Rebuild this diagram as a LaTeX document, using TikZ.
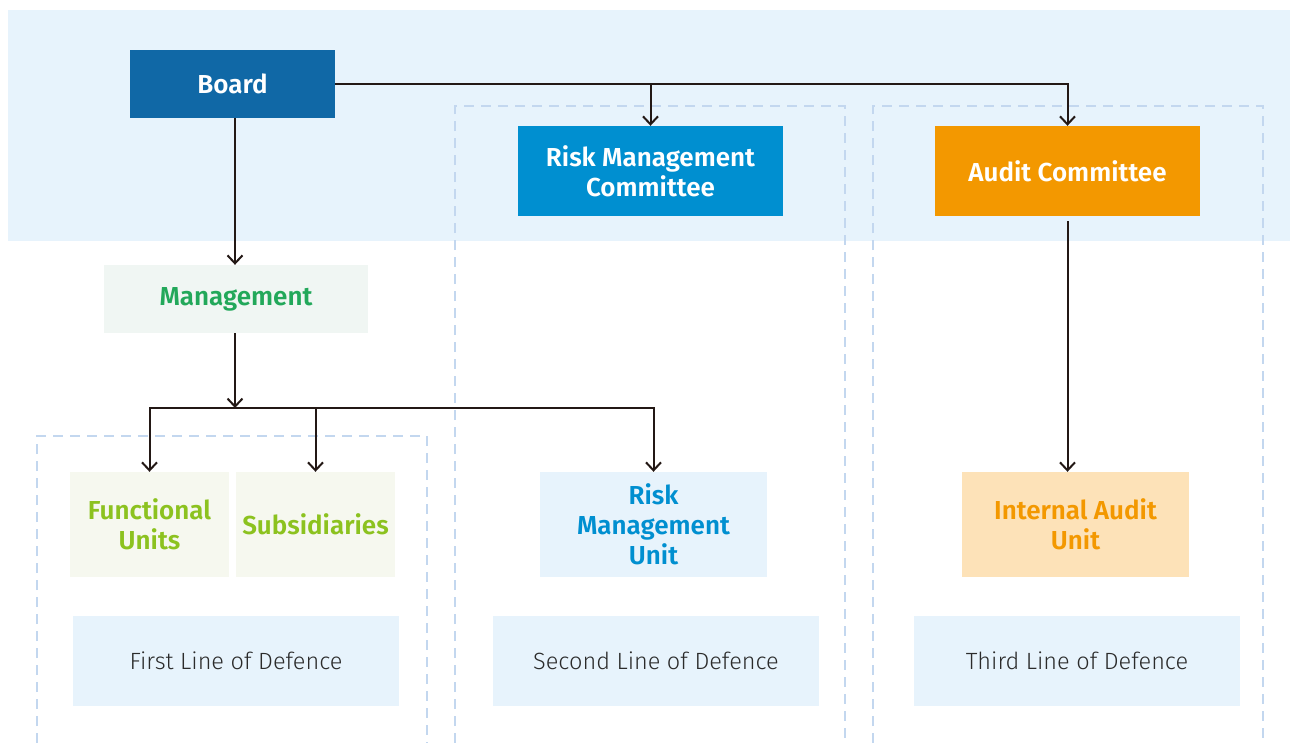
\documentclass[tikz,border=0pt]{standalone}
\usepackage{fontspec}
\setmainfont{Fira Sans}[BoldFont={Fira Sans SemiBold}]
\newfontfamily\lightfont{Fira Sans Light}
\usetikzlibrary{arrows.meta}
\definecolor{bandbg}{HTML}{E7F3FC}
\definecolor{boardc}{HTML}{1068A6}
\definecolor{rmcc}{HTML}{008FD0}
\definecolor{auditc}{HTML}{F39800}
\definecolor{mgmtbg}{HTML}{F0F6F3}
\definecolor{mgmttx}{HTML}{22A85A}
\definecolor{unitbg}{HTML}{F6F8EF}
\definecolor{unittx}{HTML}{8CC21F}
\definecolor{iaubg}{HTML}{FDE2B8}
\definecolor{dashc}{HTML}{C3D7EF}
\definecolor{linec}{HTML}{231815}
\definecolor{deftx}{HTML}{2B2B2B}
\begin{document}
\begin{tikzpicture}[x=1pt,y=-1pt,
  box/.style={inner sep=0pt, align=center, font=\fontsize{26}{30}\selectfont\bfseries},
  deflinebox/.style={inner sep=0pt, align=center, fill=bandbg, text=deftx, minimum width=326pt, minimum height=90pt, font=\fontsize{23.5}{30}\selectfont\lightfont},
  conn/.style={draw=linec, line width=2pt, -{Straight Barb[length=8pt,width=15pt,line width=2pt]}},
  dashbox/.style={draw=dashc, line width=2.5pt, dash pattern=on 10pt off 7pt}
]
\useasboundingbox (0,0) rectangle (1295,742);
\clip (0,0) rectangle (1295,742);
\fill[bandbg] (8,10) rectangle (1290,241);
\draw[dashbox] (37,760) -- (37,436) -- (427,436) -- (427,760);
\draw[dashbox] (455,760) -- (455,106) -- (845,106) -- (845,760);
\draw[dashbox] (873,760) -- (873,106) -- (1263,106) -- (1263,760);

\node[box, fill=boardc, text=white, minimum width=205pt, minimum height=68pt] (board) at (232.5,84) {Board};
\node[box, fill=rmcc, text=white, minimum width=265pt, minimum height=90pt] (rmc) at (650.5,171) {Risk Management\\Committee};
\node[box, fill=auditc, text=white, minimum width=265pt, minimum height=90pt] (audit) at (1067.5,171) {Audit Committee};
\node[box, fill=mgmtbg, text=mgmttx, minimum width=264pt, minimum height=68pt] (mgmt) at (236,299) {Management};
\node[box, fill=unitbg, text=unittx, minimum width=159pt, minimum height=105pt] (fu) at (149.5,524.5) {Functional\\Units};
\node[box, fill=unitbg, text=unittx, minimum width=159pt, minimum height=105pt] (sub) at (315.5,524.5) {Subsidiaries};
\node[box, fill=bandbg, text=rmcc, minimum width=227pt, minimum height=105pt] (rmu) at (653.5,524.5) {Risk\\Management\\Unit};
\node[box, fill=iaubg, text=auditc, minimum width=227pt, minimum height=105pt] (iau) at (1075.5,524.5) {Internal Audit\\Unit};
\node[deflinebox] (d1) at (236,661) {First Line of Defence};
\node[deflinebox] (d2) at (656,661) {Second Line of Defence};
\node[deflinebox] (d3) at (1077,661) {Third Line of Defence};

\coordinate (split) at (235,408);
\draw[conn] (board.east) -| (audit.north);
\draw[conn] (rmc.north |- board.east) -- (rmc.north);
\draw[conn] (board.south -| split) -- (mgmt.north -| split);
\draw[conn] (mgmt.south -| split) -- (split);
\draw[conn] (split) -| (fu.north);
\draw[conn] (split) -| (rmu.north);
\draw[conn] (sub.north |- split) -- (sub.north);
\draw[conn] ([yshift=-5pt]audit.south) -- (audit.south |- iau.north);
\end{tikzpicture}
\end{document}
